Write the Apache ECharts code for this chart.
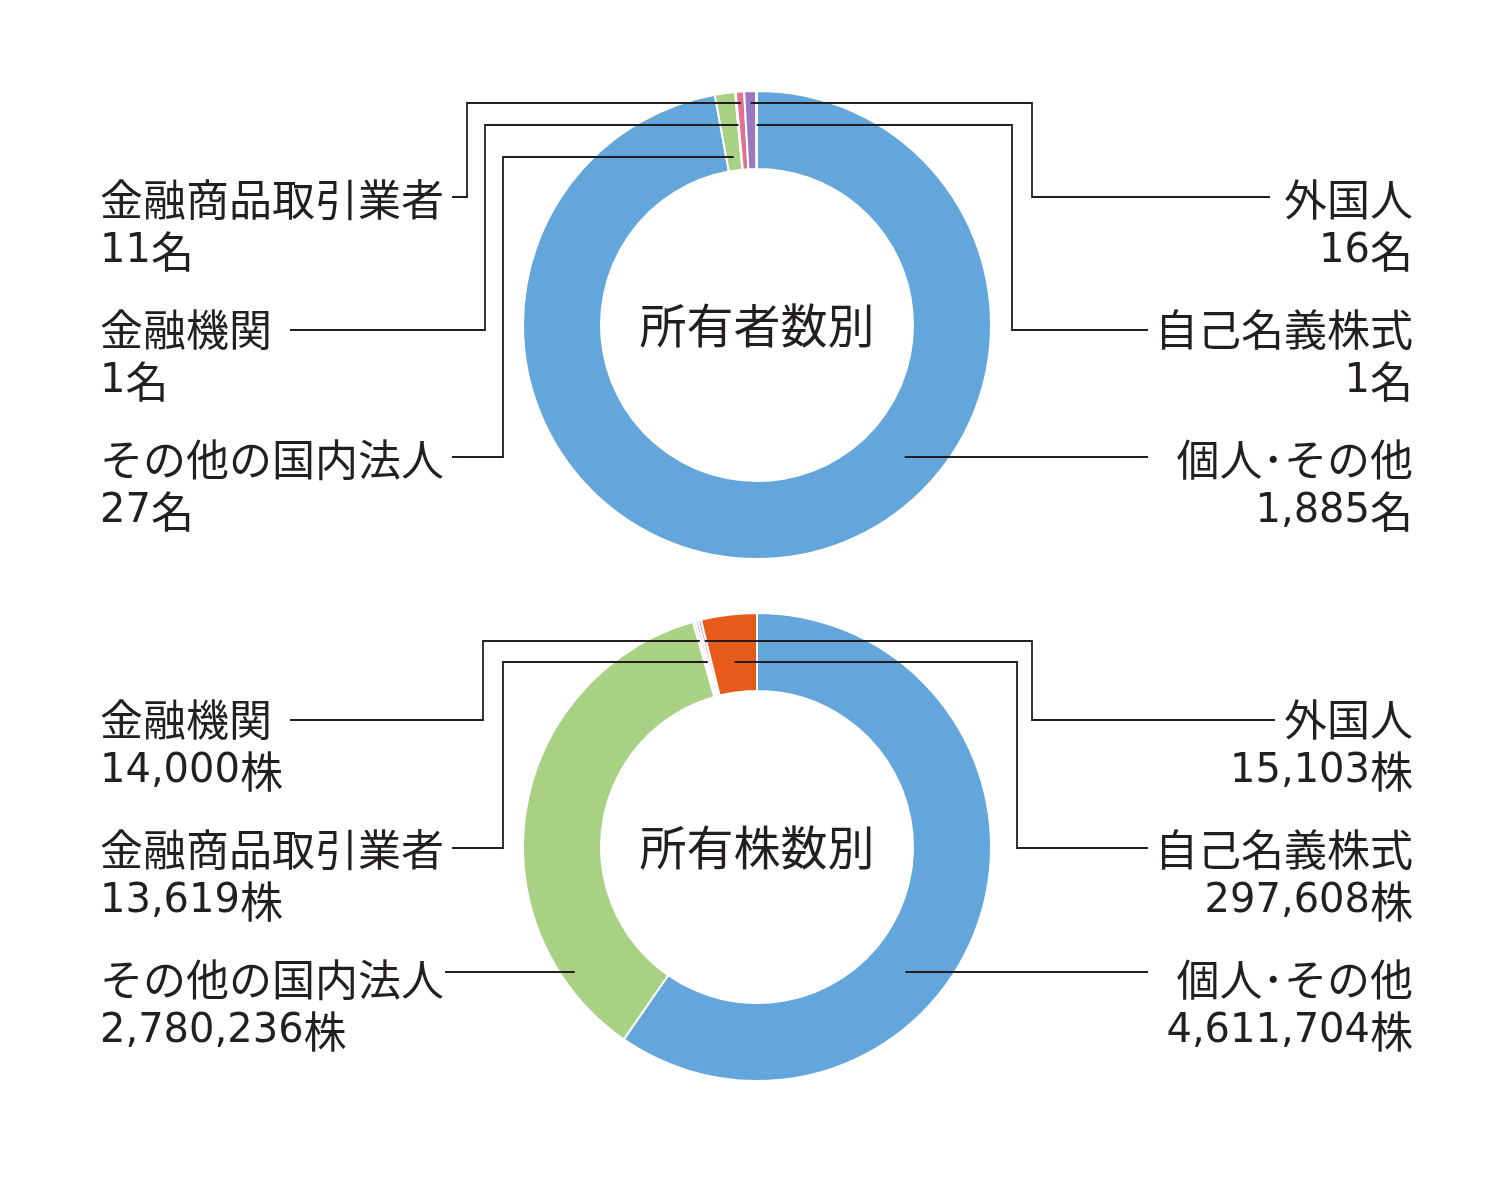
<!DOCTYPE html>
<html><head><meta charset="utf-8">
<script src="https://cdn.jsdelivr.net/npm/echarts@6/dist/echarts.min.js"></script>
<style>html,body{margin:0;padding:0;background:#fff}#c{width:1500px;height:1183px}</style>
</head><body><div id="c"></div>
<script>
// ---- data ----
const categories = ['個人･その他', 'その他の国内法人', '金融機関', '金融商品取引業者', '外国人', '自己名義株式'];
const holdersValues = [1885, 27, 1, 11, 16, 1];
const sharesValues = [4611704, 2780236, 14000, 13619, 15103, 297608];
const titles = ['所有者数別', '所有株数別'];
const units = ['名', '株'];

// ---- style / layout ----
const colors = ['#63a6db', '#a8d183', '#d8d3ec', '#e4708f', '#9a77c2', '#e85a1a'];
const CX = 757, CYS = [325, 847], R0 = 156, R1 = 234;
const layouts = [
  [
    {side:'R', ty:460, sx:1148, ly:457, endR:198},
    {side:'L', ty:460, sx:452, ly:457, ex:503, lv:157},
    {side:'L', ty:330, sx:290, ly:330, ex:485, lv:125},
    {side:'L', ty:200, sx:452, ly:197, ex:467, lv:103},
    {side:'R', ty:200, sx:1270, ly:197, ex:1032, lv:103},
    {side:'R', ty:330, sx:1148, ly:330, ex:1012, lv:125}
  ],
  [
    {side:'R', ty:980, sx:1148, ly:972, endR:194},
    {side:'L', ty:980, sx:445, ly:972, endR:221},
    {side:'L', ty:720, sx:290, ly:720, ex:483, lv:641},
    {side:'L', ty:850, sx:452, ly:848, ex:503, lv:662},
    {side:'R', ty:720, sx:1275, ly:720, ex:1032, lv:641},
    {side:'R', ty:850, sx:1148, ly:848, ex:1017, lv:662}
  ]
];

function midAngles(vals) {
  const tot = vals.reduce((a, b) => a + b, 0);
  let acc = 0;
  return vals.map(v => { const m = (acc + v / 2) / tot * 2 * Math.PI; acc += v; return m; });
}
const allValues = [holdersValues, sharesValues];
const mids = allValues.map(midAngles);

const CJK = "'Noto Sans CJK JP', 'Noto Sans', sans-serif";
const NUM = "'DejaVu Sans', 'Noto Sans CJK JP', sans-serif";
const TXT = '#231f20';

function leaderPoints(si, i) {
  const L = layouts[si][i];
  const cy = CYS[si];
  if (L.endR) {
    const dy = L.ly - cy;
    const dx = Math.sqrt(L.endR * L.endR - dy * dy);
    const ex = L.side === 'R' ? CX + dx : CX - dx;
    return [[L.sx, L.ly], [ex, L.ly]];
  }
  const th = mids[si][i];
  const px = CX + (cy - L.lv) * Math.tan(th);
  return [[L.sx, L.ly], [L.ex, L.ly], [L.ex, L.lv], [px, L.lv]];
}

function makeSeries(si) {
  const cy = CYS[si];
  return {
    type: 'pie',
    center: [CX, cy],
    radius: [R0, R1],
    startAngle: 90,
    clockwise: true,
    avoidLabelOverlap: false,
    silent: true,
    animation: false,
    emphasis: {disabled: true},
    itemStyle: {borderColor: '#ffffff', borderWidth: 2},
    data: categories.map((c, i) => ({name: c, value: allValues[si][i], itemStyle: {color: colors[i]}})),
    label: {
      show: true,
      position: 'outside',
      formatter: p => '{n|' + p.name + '}\n{v|' + p.value.toLocaleString('en-US') + '}{u|' + units[si] + '}',
      color: TXT,
      rich: {
        n: {fontFamily: CJK, fontSize: 43, lineHeight: 52, color: TXT},
        v: {fontFamily: NUM, fontSize: 40, lineHeight: 52, color: TXT},
        u: {fontFamily: CJK, fontSize: 43, lineHeight: 52, color: TXT}
      }
    },
    labelLine: {show: false},
    labelLayout: function (p) {
      const L = layouts[si][p.dataIndex];
      return {
        x: L.side === 'L' ? 100 : 1413,
        y: L.ty - 26,
        align: L.side === 'L' ? 'left' : 'right',
        verticalAlign: 'top'
      };
    }
  };
}

const lines = [];
[0, 1].forEach(si => categories.forEach((c, i) => {
  lines.push({
    type: 'polyline', z: 100, silent: true,
    shape: {points: leaderPoints(si, i)},
    style: {stroke: TXT, lineWidth: 1.8, fill: null}
  });
}));

const chart = echarts.init(document.getElementById('c'), null, {renderer: 'canvas'});
chart.setOption({
  backgroundColor: '#ffffff',
  animation: false,
  series: [makeSeries(0), makeSeries(1)],
  graphic: titles.map((t, i) => ({
    type: 'text',
    x: CX, y: CYS[i], z: 100,
    style: {text: t, fontFamily: CJK, fontSize: 47, fill: TXT, textAlign: 'center', textVerticalAlign: 'middle'}
  })).concat(lines)
});
</script>
</body></html>
